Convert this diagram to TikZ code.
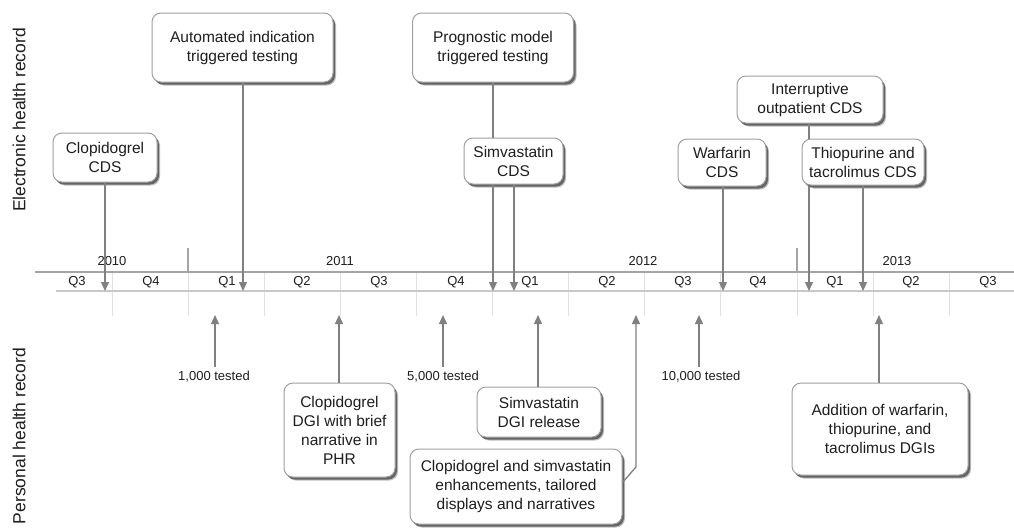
\documentclass[tikz,border=0pt]{standalone}
\usepackage{fontspec}
\setmainfont{Liberation Sans}
\usetikzlibrary{arrows.meta,shadows}
\definecolor{arrowgray}{RGB}{128,128,128}
\definecolor{boxgray}{RGB}{160,160,160}
\definecolor{axisgray}{RGB}{165,165,165}
\definecolor{lowgray}{RGB}{200,200,200}
\definecolor{divgray}{RGB}{225,225,225}
\definecolor{shadowgray}{RGB}{70,70,70}
\definecolor{txt}{RGB}{30,30,30}
\begin{document}
\begin{tikzpicture}[x=1pt,y=-1pt,
  box/.style={draw=boxgray, line width=1pt, rounded corners=9pt, fill=white, align=center,
    inner sep=2pt, font=\fontsize{15.5}{19}\selectfont, text=txt,
    drop shadow={shadow xshift=3pt,shadow yshift=-3.5pt,fill=shadowgray,opacity=0.35},
    drop shadow={shadow xshift=2pt,shadow yshift=-2.5pt,fill=shadowgray,opacity=0.75}},
  arr/.style={draw=arrowgray, line width=1.3pt, -{Triangle[width=8pt,length=9pt]}},
  conn/.style={draw=arrowgray, line width=1.3pt},
  small/.style={font=\fontsize{13}{15}\selectfont, text=txt, inner sep=2pt},
  side/.style={font=\fontsize{17.5}{20}\selectfont, text=txt, rotate=90},
  divline/.style={draw=divgray, line width=1pt},
]
\fill[white] (0,0) rectangle (1014,531);
\useasboundingbox (0,0) rectangle (1014,531);

% side labels
\node[side] (ehr) at (19,120) {Electronic health record};
\node[side] (phr) at (19,436) {Personal health record};

% quarter dividers
\foreach \x in {112,188,264,340,416,492,568,644,720,797,873,949}
  \draw[divline] (\x,272) -- (\x,316);
% axis lines
\draw[draw=axisgray, line width=1.6pt] (35,272) -- (1014,272);
\draw[draw=lowgray, line width=1.4pt] (56,291) -- (1014,291);
% year ticks
\draw[draw=axisgray, line width=1.2pt] (188,248) -- (188,272);
\draw[draw=axisgray, line width=1.2pt] (797,248) -- (797,272);

% year labels
\node[small] (y2010) at (112,261) {2010};
\node[small] (y2011) at (340,261) {2011};
\node[small] (y2012) at (643,261) {2012};
\node[small] (y2013) at (897,261) {2013};
% quarter labels
\node[small] (q1) at (77,282) {Q3};
\node[small] (q2) at (151,282) {Q4};
\node[small] (q3) at (227,282) {Q1};
\node[small] (q4) at (302,282) {Q2};
\node[small] (q5) at (379,282) {Q3};
\node[small] (q6) at (456,282) {Q4};
\node[small] (q7) at (530,282) {Q1};
\node[small] (q8) at (607,282) {Q2};
\node[small] (q9) at (683,282) {Q3};
\node[small] (q10) at (758,282) {Q4};
\node[small] (q11) at (835,282) {Q1};
\node[small] (q12) at (911,282) {Q2};
\node[small] (q13) at (988,282) {Q3};

% arrow tip coordinates
\coordinate (d1) at (105,291);
\coordinate (d2) at (243,291);
\coordinate (d3) at (493,291);
\coordinate (d4) at (514,291);
\coordinate (d5) at (723,291);
\coordinate (d6) at (809,291);
\coordinate (d7) at (863,291);
\coordinate (u1) at (215,315);
\coordinate (u2) at (339,315);
\coordinate (u3) at (443,315);
\coordinate (u4) at (538,315);
\coordinate (u5) at (636,315);
\coordinate (u6) at (699,315);
\coordinate (u7) at (879,315);
\coordinate (bend) at (636,467);

% EHR boxes
\node[box, minimum width=104pt, minimum height=49pt] (clopcds) at (105,157.5) {Clopidogrel\\CDS};
\node[box, minimum width=181pt, minimum height=69pt] (auto) at (242.5,47.5) {Automated indication\\triggered testing};
\node[box, minimum width=161pt, minimum height=69pt] (prog) at (493,47.5) {Prognostic model\\triggered testing};
\node[box, minimum width=99pt, minimum height=46pt] (simvcds) at (513.5,161) {Simvastatin\\CDS};
\node[box, minimum width=88pt, minimum height=47pt] (warf) at (722,162.5) {Warfarin\\CDS};
\node[box, minimum width=146pt, minimum height=47pt] (interr) at (810,99.5) {Interruptive\\outpatient CDS};
\node[box, minimum width=122pt, minimum height=46pt] (thio) at (863,162) {Thiopurine and\\tacrolimus CDS};

% PHR boxes and labels
\node[small] (t1) at (214,377) {1,000 tested};
\node[small] (t2) at (443,377) {5,000 tested};
\node[small] (t3) at (701,377) {10,000 tested};
\node[box, minimum width=111pt, minimum height=94pt] (clopdgi) at (339.5,430) {Clopidogrel\\DGI with brief\\narrative in\\PHR};
\node[box, minimum width=124pt, minimum height=50pt] (simvdgi) at (539,412) {Simvastatin\\DGI release};
\node[box, minimum width=212pt, minimum height=75pt] (enh) at (516,486.5) {Clopidogrel and simvastatin\\enhancements, tailored\\displays and narratives};
\node[box, minimum width=176pt, minimum height=92pt] (add) at (880,429) {Addition of warfarin,\\thiopurine, and\\tacrolimus DGIs};

% EHR connectors
\draw[arr] (clopcds) -- (d1);
\draw[arr] (auto.south -| d2) -- (d2);
\draw[conn] (prog.south) -- (prog.south |- simvcds.north);
\draw[arr] (simvcds.south -| d3) -- (d3);
\draw[arr] (simvcds.south -| d4) -- (d4);
\draw[arr] (warf.south -| d5) -- (d5);
\draw[conn] (interr.south -| d6) -- (thio.north -| d6);
\draw[arr] (thio.south -| d6) -- (d6);
\draw[arr] (thio.south -| d7) -- (d7);

% PHR connectors
\draw[arr, shorten <=2pt] (t1.north -| u1) -- (u1);
\draw[arr] (clopdgi.north -| u2) -- (u2);
\draw[arr, shorten <=2pt] (t2.north -| u3) -- (u3);
\draw[arr] (simvdgi.north -| u4) -- (u4);
\draw[arr] ([yshift=4pt]enh.east) -- (bend) -- (u5);
\draw[arr, shorten <=2pt] (t3.north -| u6) -- (u6);
\draw[arr] (add.north -| u7) -- (u7);
\end{tikzpicture}
\end{document}
